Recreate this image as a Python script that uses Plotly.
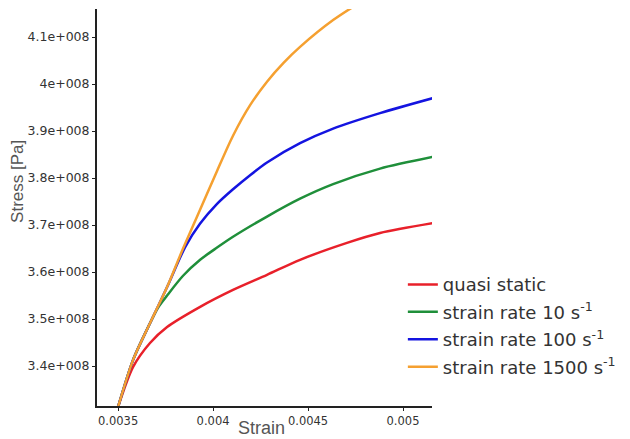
import plotly.graph_objects as go

# Data
quasi_x = [0.0035, 0.003579, 0.003668, 0.003758, 0.003932, 0.004105, 0.004284, 0.004458, 0.004705, 0.004879, 0.005158]
quasi_y = [3.313e8, 3.398e8, 3.449e8, 3.483e8, 3.526e8, 3.562e8, 3.594e8, 3.626e8, 3.662e8, 3.683e8, 3.704e8]

rate10_x = [0.0035, 0.003579, 0.003668, 0.00371, 0.003758, 0.003842, 0.003932, 0.004021, 0.004105, 0.004284, 0.004458, 0.004632, 0.004879, 0.005158]
rate10_y = [3.313e8, 3.413e8, 3.491e8, 3.524e8, 3.550e8, 3.592e8, 3.626e8, 3.652e8, 3.675e8, 3.718e8, 3.756e8, 3.787e8, 3.820e8, 3.845e8]

rate100_x = [0.0035, 0.003579, 0.003668, 0.003758, 0.003853, 0.003932, 0.004021, 0.004105, 0.004195, 0.004284, 0.004458, 0.004632, 0.004879, 0.005158]
rate100_y = [3.313e8, 3.413e8, 3.491e8, 3.568e8, 3.653e8, 3.703e8, 3.745e8, 3.776e8, 3.806e8, 3.833e8, 3.874e8, 3.905e8, 3.938e8, 3.970e8]

rate1500_x = [0.0035, 0.003579, 0.003668, 0.003758, 0.003842, 0.003916, 0.004021, 0.004105, 0.004195, 0.004284, 0.004371, 0.004458, 0.004632, 0.0048]
rate1500_y = [3.313e8, 3.413e8, 3.491e8, 3.568e8, 3.650e8, 3.718e8, 3.815e8, 3.890e8, 3.955e8, 4.005e8, 4.045e8, 4.079e8, 4.136e8, 4.180e8]

x_tickvals = [0.0035, 0.004, 0.0045, 0.005]
x_ticktext = ["0.0035", "0.004", "0.0045", "0.005"]
y_tickvals = [3.4e8, 3.5e8, 3.6e8, 3.7e8, 3.8e8, 3.9e8, 4.0e8, 4.1e8]
y_ticktext = ["3.4e+008", "3.5e+008", "3.6e+008", "3.7e+008", "3.8e+008", "3.9e+008", "4e+008", "4.1e+008"]

x_title = "Strain"
y_title = "Stress [Pa]"

series = [
    ("quasi static", quasi_x, quasi_y, "#e8202a"),
    ("strain rate 10 s<sup>-1</sup>", rate10_x, rate10_y, "#1f8f3a"),
    ("strain rate 100 s<sup>-1</sup>", rate100_x, rate100_y, "#1414e0"),
    ("strain rate 1500 s<sup>-1</sup>", rate1500_x, rate1500_y, "#f5a030"),
]

fig = go.Figure()
for i, (name, xs, ys, col) in enumerate(series):
    fig.add_trace(go.Scatter(x=xs, y=ys, mode="lines", name=name, legendgroup=str(i),
                             line=dict(color=col, width=2.5, shape="spline", smoothing=0.8)))

# the page body adds an 8px offset, margins compensate for it
fig.update_layout(
    width=630, height=439,
    margin=dict(l=89, r=206, t=1, b=41),
    paper_bgcolor="white", plot_bgcolor="white",
    showlegend=True,
    legend=dict(x=0.913, y=0.352, xanchor="left", yanchor="top",
                font=dict(family="DejaVu Sans", size=18, color="#333"),
                bgcolor="rgba(255,255,255,0)", tracegroupgap=1, itemwidth=30),
    xaxis=dict(range=[0.003389, 0.0051526], tickvals=x_tickvals, ticktext=x_ticktext,
               showline=True, linecolor="#222", linewidth=2, showgrid=False, zeroline=False,
               ticks="outside", ticklen=3, tickcolor="#222", automargin=False,
               tickfont=dict(family="DejaVu Sans", size=11.5, color="#333")),
    yaxis=dict(range=[3.3149e8, 4.1596e8], tickvals=y_tickvals, ticktext=y_ticktext,
               showline=True, linecolor="#222", linewidth=2, showgrid=False, zeroline=False,
               ticks="outside", ticklen=3, tickcolor="#222", automargin=False,
               tickfont=dict(family="DejaVu Sans", size=12.5, color="#333")),
    annotations=[
        dict(text=x_title, xref="paper", yref="paper", x=0.4925, y=-0.0555,
             xanchor="center", yanchor="middle", showarrow=False,
             font=dict(family="Liberation Sans", size=18, color="#555")),
        dict(text=y_title, xref="paper", yref="paper", x=-0.2360, y=0.5668,
             xanchor="center", yanchor="middle", showarrow=False, textangle=-90,
             font=dict(family="Liberation Sans", size=17, color="#555")),
    ],
)

fig.write_html("out.html")
